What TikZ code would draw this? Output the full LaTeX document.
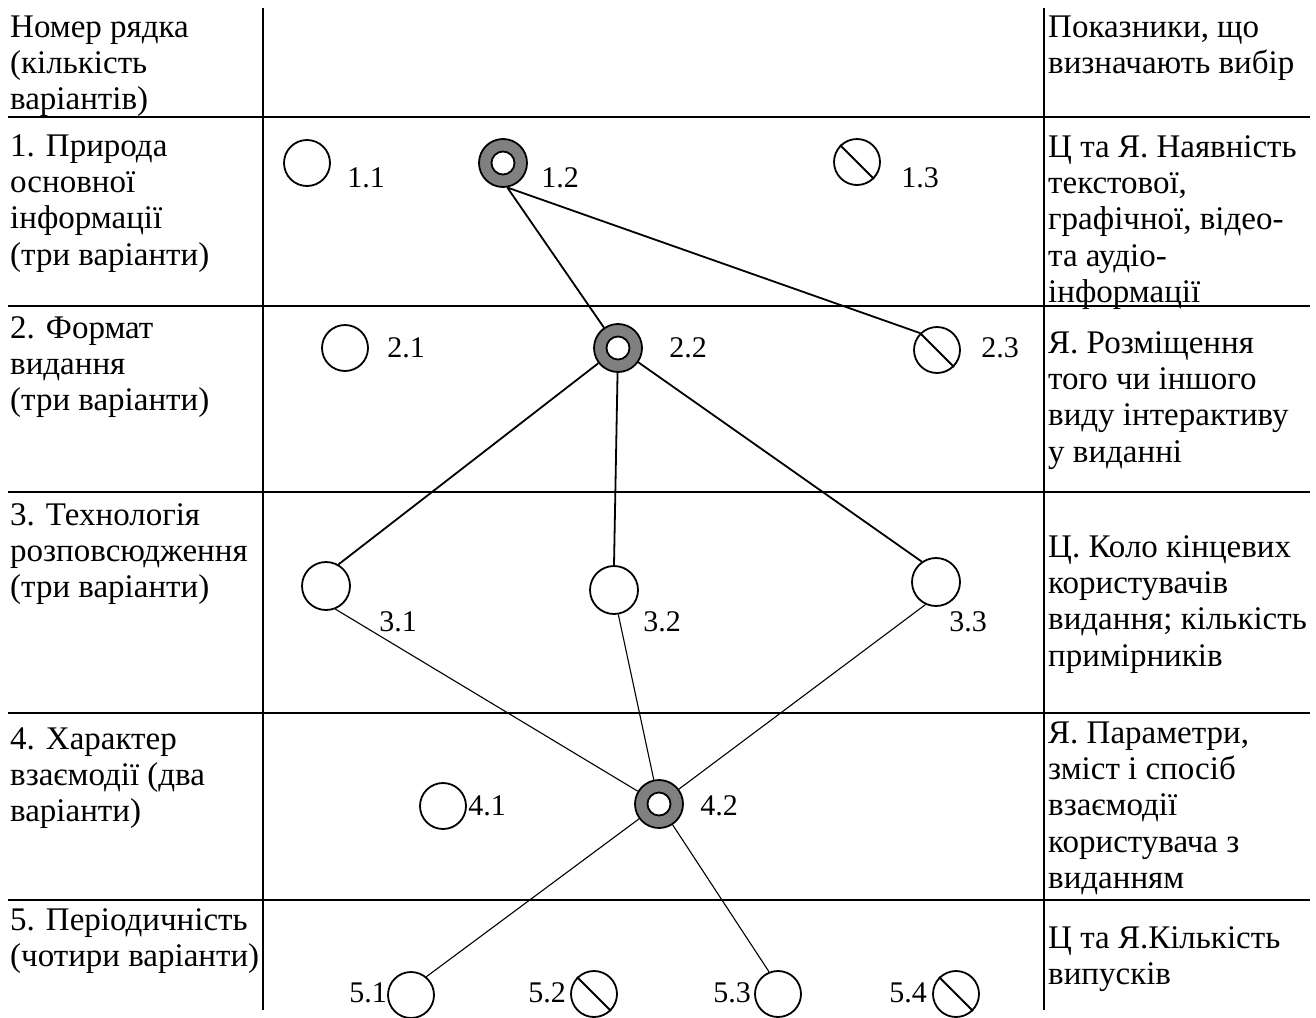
\documentclass[tikz,border=0pt]{standalone}
\usepackage{fontspec}
\setmainfont{Liberation Serif}
\definecolor{ringgray}{RGB}{128,128,128}
\begin{document}
\begin{tikzpicture}[x=1pt,y=-1pt,
  rule/.style={line width=2.5pt},
  txt/.style={anchor=north west,inner sep=0pt,align=left,font=\fontsize{33}{36.3}\selectfont},
  lbl/.style={inner sep=0pt,font=\fontsize{30}{32}\selectfont},
  opt/.style={circle,draw,line width=1.8pt,minimum size=46pt,inner sep=0pt},
  chosen/.style={opt,fill=ringgray,minimum size=48pt},
  hole/.style={circle,draw,fill=white,line width=1.8pt,minimum size=23pt,inner sep=0pt},
  slash/.style={line width=1.8pt},
  strong/.style={line width=1.8pt},
  weak/.style={line width=1.1pt}]
\useasboundingbox (0,0) rectangle (1316,1017);
% table rules
\draw[rule] (263,8) -- (263,1010);
\draw[rule] (1044,8) -- (1044,1010);
\foreach \yy in {117,306,492,713,900} \draw[rule] (8,\yy) -- (1310,\yy);
% left column
\node[txt] (h1) at (10,37-25.41) {\strut Номер рядка\\(кількість\\варіантів)};
\node[txt] (r1) at (10,156-25.41) {\strut 1. Природа\\основної\\інформації\\(три варіанти)};
\node[txt] (r2) at (10,338-25.41) {\strut 2. Формат\\видання\\(три варіанти)};
\node[txt] (r3) at (10,525-25.41) {\strut 3. Технологія\\розповсюдження\\(три варіанти)};
\node[txt] (r4) at (10,749-25.41) {\strut 4. Характер\\взаємодії (два\\варіанти)};
\node[txt] (r5) at (10,930-25.41) {\strut 5. Періодичність\\(чотири варіанти)};
% right column
\node[txt] (h3) at (1048,37-25.41) {\strut Показники, що\\визначають вибір};
\node[txt] (s1) at (1048,157-25.41) {\strut Ц та Я. Наявність\\текстової,\\графічної, відео-\\та аудіо-\\інформації};
\node[txt] (s2) at (1048,353-25.41) {\strut Я. Розміщення\\того чи іншого\\виду інтерактиву\\у виданні};
\node[txt] (s3) at (1048,557-25.41) {\strut Ц. Коло кінцевих\\користувачів\\видання; кількість\\примірників};
\node[txt] (s4) at (1048,743-25.41) {\strut Я. Параметри,\\зміст і спосіб\\взаємодії\\користувача з\\виданням};
\node[txt] (s5) at (1048,948-25.41) {\strut Ц та Я.Кількість\\випусків};
% option circles
\node[opt] (n11) at (307,163) {};
\node[chosen] (n12) at (503,163) {};
\node[opt] (n13) at (857,162) {};
\node[opt] (n21) at (345,348) {};
\node[chosen] (n22) at (618,348) {};
\node[opt] (n23) at (937,350) {};
\node[opt,minimum size=48pt] (n31) at (326,586) {};
\node[opt,minimum size=48pt] (n32) at (614,590) {};
\node[opt,minimum size=48pt] (n33) at (936,582) {};
\node[opt] (n41) at (443,806) {};
\node[chosen] (n42) at (659,804) {};
\node[opt] (n51) at (411,995) {};
\node[opt] (n52) at (594,994) {};
\node[opt] (n53) at (778,994) {};
\node[opt] (n54) at (956,994) {};
% holes of chosen options
\node[hole] (c12) at (n12.center) {};
\node[hole] (c22) at (n22.center) {};
\node[hole] (c42) at (n42.center) {};
% slashes of excluded options
\draw[slash] (n13.135) -- (n13.-45);
\draw[slash] (n23.135) -- (n23.-45);
\draw[slash] (n52.135) -- (n52.-45);
\draw[slash] (n54.135) -- (n54.-45);
% labels
\node[lbl] (l11) at (366,178) {1.1};
\node[lbl] (l12) at (560,178) {1.2};
\node[lbl] (l13) at (920,178) {1.3};
\node[lbl] (l21) at (406,348) {2.1};
\node[lbl] (l22) at (688,348) {2.2};
\node[lbl] (l23) at (1000,348) {2.3};
\node[lbl] (l31) at (398,622) {3.1};
\node[lbl] (l32) at (662,622) {3.2};
\node[lbl] (l33) at (968,622) {3.3};
\node[lbl] (l41) at (487,806) {4.1};
\node[lbl] (l42) at (719,806) {4.2};
\node[lbl] (l51) at (368,993) {5.1};
\node[lbl] (l52) at (547,993) {5.2};
\node[lbl] (l53) at (732,993) {5.3};
\node[lbl] (l54) at (908,993) {5.4};
% connectors
\draw[strong] (n12.-80) -- (n22);
\draw[strong] (n12.-80) -- (n23.135);
\draw[strong] (n22) -- (n31.60);
\draw[strong] (n22) -- (n32.north);
\draw[strong] (n22) -- (n33.125);
\draw[weak] (n31.-68) -- (n42);
\draw[weak] (n32.-80) -- (n42);
\draw[weak] (n33.-115) -- (n42);
\draw[weak] (n42) -- (n51.50);
\draw[weak] (n42) -- (n53.112);
\end{tikzpicture}
\end{document}
